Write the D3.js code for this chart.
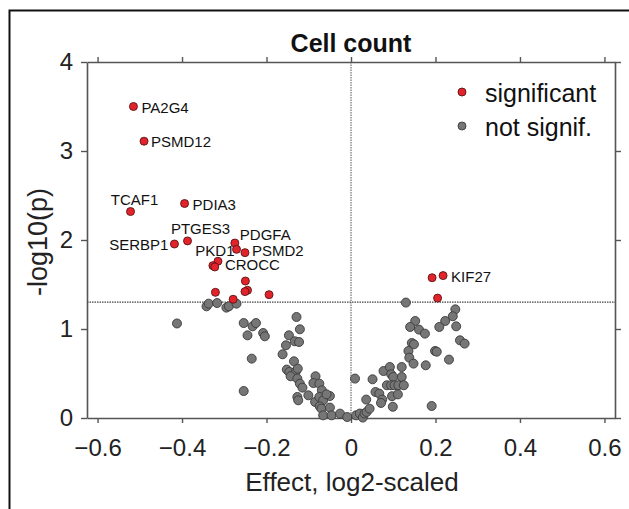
<!DOCTYPE html>
<html>
<head>
<meta charset="utf-8">
<script src="https://cdn.jsdelivr.net/npm/d3@7"></script>
<style>
  body { margin: 0; background: #fff; }
  text { font-family: Arial, "Liberation Sans", sans-serif; }
</style>
</head>
<body>
<svg id="chart" width="629" height="509"></svg>
<script>
// significant hits (red)
const sigEffect = [-0.515, -0.490, -0.522, -0.394, -0.418, -0.387, -0.275, -0.271, -0.251, -0.315,
  -0.327, -0.3225, -0.250, -0.245, -0.251, -0.194, -0.321, -0.279, 0.218, 0.192, 0.205];
const sigLogP = [3.50, 3.11, 2.32, 2.41, 1.955, 1.99, 1.966, 1.895, 1.858, 1.761,
  1.712, 1.697, 1.539, 1.435, 1.42, 1.386, 1.412, 1.334, 1.60, 1.576, 1.347];
const sigGene = ["PA2G4", "PSMD12", "TCAF1", "PDIA3", "SERBP1", "PTGES3", "PDGFA", "PKD1", "PSMD2", "CROCC",
  "", "", "", "", "", "", "", "", "KIF27", "", ""];

// not significant (grey)
const nsEffect = [-0.412, -0.342, -0.337, -0.317, -0.295, -0.289, -0.271, -0.254, -0.233, -0.225,
  -0.245, -0.208, -0.204, -0.235, -0.254,
  -0.129, -0.121, -0.147, -0.133, -0.123, -0.154, -0.162, -0.135, -0.152, -0.146,
  -0.130, -0.126, -0.143, -0.127, -0.121, -0.115, -0.127, -0.125, -0.101, -0.084,
  -0.089, -0.075, -0.069, -0.085, -0.075, -0.066, -0.050, -0.058, -0.074, -0.070,
  -0.050, -0.066, -0.046, -0.026, -0.009,
  0.0095, 0.012, 0.021, 0.028, 0.032, 0.037, 0.044, 0.036, 0.051,
  0.058, 0.067, 0.074, 0.071, 0.077, 0.092, 0.120, 0.095, 0.100, 0.120,
  0.085, 0.095, 0.103, 0.112, 0.125, 0.097, 0.111, 0.099,
  0.130, 0.247, 0.241, 0.223, 0.209, 0.249, 0.152, 0.140, 0.161, 0.175,
  0.258, 0.269, 0.144, 0.149, 0.136, 0.199, 0.203, 0.138, 0.148, 0.177, 0.232, 0.191];
const nsLogP = [1.062, 1.255, 1.285, 1.292, 1.24, 1.255, 1.285, 1.067, 1.03, 1.067,
  0.929, 0.955, 0.918, 0.667, 0.303,
  1.135, 0.997, 0.929, 0.862, 0.854, 0.817, 0.716, 0.637, 0.544, 0.517,
  0.528, 0.555, 0.469, 0.443, 0.386, 0.341, 0.236, 0.199, 0.255, 0.469,
  0.393, 0.386, 0.311, 0.18, 0.236, 0.199, 0.247, 0.266, 0.131, 0.105,
  0.117, 0.03, 0.03, 0.049, 0.011,
  0.443, 0.03, 0.05, 0.005, 0.05, 0.068, 0.105, 0.207, 0.435,
  0.292, 0.274, 0.207, 0.169, 0.528, 0.573, 0.573, 0.491, 0.461, 0.461,
  0.368, 0.368, 0.368, 0.368, 0.368, 0.245, 0.265, 0.126,
  1.297, 1.221, 1.143, 1.09, 1.023, 1.03, 1.09, 1.023, 0.993, 0.948,
  0.873, 0.836, 0.843, 0.828, 0.753, 0.753, 0.745, 0.678, 0.611, 0.592, 0.656, 0.135];

const xTicks = [-0.6, -0.4, -0.2, 0, 0.2, 0.4, 0.6];
const yTicks = [0, 1, 2, 3, 4];
const threshold = 1.301; // -log10(0.05)
const legendItems = ["significant", "not signif."];

// label placement relative to its point: dx, dy, anchor
const labelPlacement = {
  PA2G4: [8, 6, "start"],
  PSMD12: [7, 6, "start"],
  TCAF1: [4, -7, "middle"],
  PDIA3: [8, 6, "start"],
  SERBP1: [-6, 6, "end"],
  PTGES3: [13, -7, "middle"],
  PDGFA: [5, -3, "start"],
  PKD1: [-2, 7, "end"],
  PSMD2: [7, 3, "start"],
  CROCC: [7, 9, "start"],
  KIF27: [8, 6, "start"]
};

const svg = d3.select("#chart");
const plotL = 87, plotR = 615, plotT = 62, plotB = 418;

const x = d3.scaleLinear().domain([-0.625, 0.625]).range([plotL, plotR]);
const y = d3.scaleLinear().domain([0, 4]).range([plotB, plotT]);

const axisColor = "#555";
const tickFmt = d => d === 0 ? "0" : d3.format(".1f")(d);

// outer frame
svg.append("path")
  .attr("d", "M9.5,509 V10.5 H629")
  .attr("fill", "none").attr("stroke", "#111").attr("stroke-width", 2);

// axes on all four sides
function styleAxis(g) {
  g.select(".domain").attr("stroke", axisColor).attr("stroke-width", 1.6);
  g.selectAll(".tick line").attr("stroke", axisColor).attr("stroke-width", 1.4);
  g.selectAll("text").attr("fill", "#222").style("font-size", "24px")
    .style("font-family", "Arial, 'Liberation Sans', sans-serif");
}

svg.append("g").attr("transform", `translate(0,${plotB})`)
  .call(d3.axisBottom(x).tickValues(xTicks).tickFormat(tickFmt).tickSize(5).tickSizeOuter(0).tickPadding(16))
  .call(styleAxis);
svg.append("g").attr("transform", `translate(0,${plotT})`)
  .call(d3.axisTop(x).tickValues(xTicks).tickFormat("").tickSize(5).tickSizeOuter(0))
  .call(styleAxis);
svg.append("g").attr("transform", `translate(${plotL},0)`)
  .call(d3.axisLeft(y).tickValues(yTicks).tickFormat(d3.format("d")).tickSize(6).tickSizeOuter(0).tickPadding(8))
  .call(styleAxis);
svg.append("g").attr("transform", `translate(${plotR},0)`)
  .call(d3.axisRight(y).tickValues(yTicks).tickFormat("").tickSize(6).tickSizeOuter(0))
  .call(styleAxis);

// reference lines
svg.append("line")
  .attr("x1", plotL).attr("x2", plotR)
  .attr("y1", y(threshold)).attr("y2", y(threshold))
  .attr("stroke", "#444").attr("stroke-width", 1.3).attr("stroke-dasharray", "1.5,1");
svg.append("line")
  .attr("x1", x(0)).attr("x2", x(0))
  .attr("y1", plotT).attr("y2", plotB)
  .attr("stroke", "#555").attr("stroke-width", 1).attr("stroke-dasharray", "1.5,1");

// title and axis titles
svg.append("text").attr("x", 351).attr("y", 52).attr("text-anchor", "middle")
  .style("font-size", "25px").style("font-weight", "bold").attr("fill", "#111").text("Cell count");
svg.append("text").attr("x", 352).attr("y", 491).attr("text-anchor", "middle")
  .style("font-size", "26px").attr("fill", "#222").text("Effect, log2-scaled");
svg.append("text").attr("transform", "translate(47,242) rotate(-90)").attr("text-anchor", "middle")
  .style("font-size", "27px").attr("fill", "#222").text("-log10(p)");

// labels first, so the dots sit on top
const sig = sigEffect.map((e, i) => ({ e, p: sigLogP[i], g: sigGene[i] }));
const ns = nsEffect.map((e, i) => ({ e, p: nsLogP[i] }));

svg.append("g").selectAll("text")
  .data(sig.filter(d => d.g))
  .join("text")
  .attr("x", d => x(d.e) + labelPlacement[d.g][0])
  .attr("y", d => y(d.p) + labelPlacement[d.g][1])
  .attr("text-anchor", d => labelPlacement[d.g][2])
  .style("font-size", "15px").attr("fill", "#111")
  .text(d => d.g);

svg.append("g").selectAll("circle")
  .data(ns)
  .join("circle")
  .attr("cx", d => x(d.e)).attr("cy", d => y(d.p)).attr("r", 4.5)
  .attr("fill", "#767676").attr("stroke", "#3a3a3a").attr("stroke-width", 0.9);

svg.append("g").selectAll("circle")
  .data(sig)
  .join("circle")
  .attr("cx", d => x(d.e)).attr("cy", d => y(d.p)).attr("r", 4)
  .attr("fill", "#e3232b").attr("stroke", "#5a1414").attr("stroke-width", 0.9);

// legend
const legend = svg.append("g").selectAll("g")
  .data(legendItems)
  .join("g")
  .attr("transform", (d, i) => `translate(462,${92 + i * 34})`);
legend.append("circle").attr("r", 4)
  .attr("fill", (d, i) => i === 0 ? "#e3232b" : "#767676")
  .attr("stroke", (d, i) => i === 0 ? "#5a1414" : "#3a3a3a").attr("stroke-width", 0.9);
legend.append("text").attr("x", 23).attr("y", 10)
  .style("font-size", "25px").attr("fill", "#111").text(d => d);
</script>
</body>
</html>
